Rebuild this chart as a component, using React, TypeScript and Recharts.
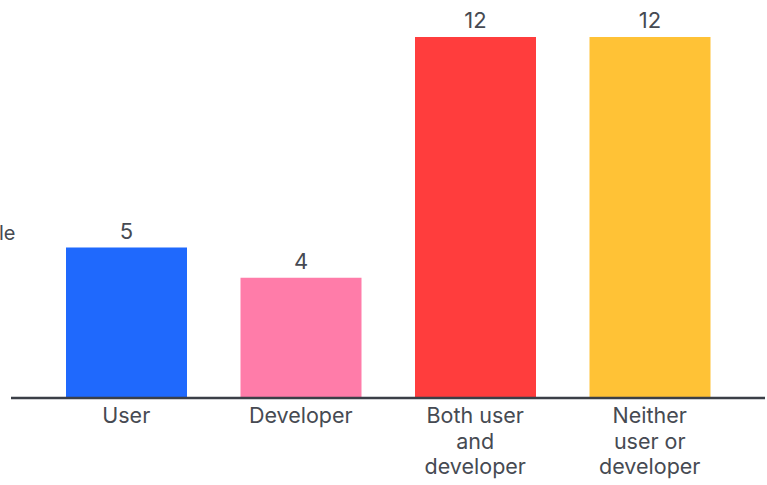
import React from 'react';
import { BarChart, Bar, XAxis, YAxis, Cell, LabelList } from 'recharts';

const categories = ['User', 'Developer', 'Both user\nand\ndeveloper', 'Neither\nuser or\ndeveloper'];
const counts = [5, 4, 12, 12];
const barColors = ['#1f69fd', '#ff7ca9', '#ff3d3d', '#ffc236'];

const data = categories.map((name, i) => ({ name, count: counts[i] }));

const FONT = 'Inter, "Noto Sans", sans-serif';

const MultiLineTick = ({ x, y, payload }: any) => {
  const lines = String(payload.value).split('\n');
  return (
    <text x={x} y={y} textAnchor="middle" fill="#464a52" fontSize={21.5} fontFamily={FONT}>
      {lines.map((line, i) => (
        <tspan key={i} x={x} dy={i === 0 ? 17 : 25.5}>
          {line}
        </tspan>
      ))}
    </text>
  );
};

const App: React.FC = () => {
  return (
    <div style={{ position: 'absolute', left: 0, top: 0, width: 767, height: 485, background: '#fff' }}>
      <span
        style={{
          position: 'absolute',
          left: -1,
          top: 221,
          fontFamily: FONT,
          fontSize: 20,
          color: '#464a52',
        }}
      >
        le
      </span>
      <BarChart
        width={767}
        height={485}
        data={data}
        margin={{ top: 37, right: 2, left: 11, bottom: 0 }}
        barSize={121}
      >
        <XAxis
          dataKey="name"
          axisLine={{ stroke: '#3b3f47', strokeWidth: 2.5 }}
          tickLine={false}
          tick={<MultiLineTick />}
          interval={0}
          height={87}
          padding={{ left: 28, right: 28 }}
        />
        <YAxis hide domain={[0, 12]} />
        <Bar dataKey="count" isAnimationActive={false}>
          {data.map((entry, i) => (
            <Cell key={entry.name} fill={barColors[i]} />
          ))}
          <LabelList
            dataKey="count"
            position="top"
            offset={9}
            fill="#464a52"
            fontSize={22}
            fontFamily={FONT}
          />
        </Bar>
      </BarChart>
    </div>
  );
};

export default App;
